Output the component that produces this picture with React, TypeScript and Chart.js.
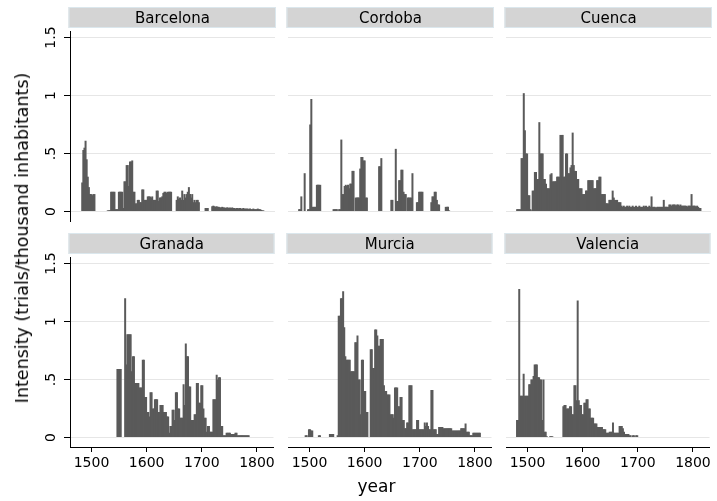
import React, { useEffect, useRef } from "react";
import { Chart, registerables } from "chart.js";

Chart.register(...registerables);

const FONT = "'DejaVu Sans', 'Lucida Grande', sans-serif";
const BAR_COLOR = "#5a5a5a";
const GRID_COLOR = "#e6e6e6";
const STRIP_FILL = "#d4d4d4";
const STRIP_BORDER = "#dbe7ed";

// ---------- data ----------
const cities = ["Barcelona", "Cordoba", "Cuenca", "Granada", "Murcia", "Valencia"];
const yTicks = [0, 0.5, 1, 1.5];
const yTickLabels = ["0", ".5", "1", "1.5"];
const xTicks = [1500, 1600, 1700, 1800];
const yAxisTitle = "Intensity (trials/thousand inhabitants)";
const xAxisTitle = "year";

// every series: one value per 2-year bin, first bin starts in 1480
const firstYear = 1480;
const binYears = 2;

const barcelona = [
  null, 0.25, 0.53, 0.55, 0.61, 0.45, 0.3, 0.21, 0.15, 0.15,
  0.14, 0.15, 0.15, null, null, null, null, null, null, null,
  null, null, null, null, 0.01, 0.01, 0.01, 0.17, 0.17, 0.17,
  0.17, 0.02, 0.02, 0.02, 0.17, 0.17, 0.17, 0.17, 0.03, 0.26,
  0.26, 0.4, 0.4, 0.22, 0.43, 0.43, 0.44, 0.17, 0.17, 0.07,
  0.07, 0.1, 0.1, 0.08, 0.08, 0.19, 0.19, 0.1, 0.1, 0.1,
  0.13, 0.13, 0.13, 0.12, 0.13, 0.1, 0.1, 0.1, 0.18, 0.18,
  0.09, 0.12, 0.12, 0.13, 0.16, 0.17, 0.17, 0.16, 0.17, 0.17,
  0.17, 0.17, null, null, null, null, 0.1, 0.13, 0.11, 0.12,
  0.1, 0.18, 0.1, 0.15, 0.12, 0.15, 0.17, 0.21, 0.15, 0.12,
  0.15, 0.08, 0.1, 0.08, 0.1, 0.1, 0.08, null, null, null,
  null, null, 0.03, 0.03, 0.03, null, null, null, 0.045, 0.05,
  0.045, 0.04, 0.045, 0.04, 0.04, 0.035, 0.035, 0.04, 0.035, 0.035,
  0.03, 0.035, 0.035, 0.03, 0.035, 0.03, 0.035, 0.03, 0.03, 0.025,
  0.03, 0.03, 0.025, 0.03, 0.025, 0.025, 0.03, 0.025, 0.025, 0.025,
  0.025, 0.02, 0.025, 0.02, 0.02, 0.025, 0.02, 0.02, 0.02, 0.025,
  0.02, 0.02, 0.015, 0.01, 0.01,
];

const cordoba = [
  0.02, 0.02, 0.13, null, null, 0.33, null, null, 0.02, 0.02,
  0.75, 0.97, 0.04, 0.04, 0.04, 0.04, 0.23, 0.23, 0.23, 0.23,
  null, null, null, null, null, null, null, null, null, null,
  null, 0.02, 0.02, 0.02, 0.02, null, 0.02, 0.02, 0.62, 0.15,
  0.15, 0.22, 0.23, 0.22, 0.23, 0.2, 0.24, 0.24, 0.35, 0.35,
  null, 0.12, 0.12, 0.12, 0.12, 0.37, 0.47, 0.47, 0.44, 0.44,
  0.12, 0.12, null, null, null, null, null, null, null, null,
  null, null, 0.39, 0.39, 0.46, null, null, null, null, null,
  null, null, null, 0.1, 0.1, null, null, 0.54, 0.09, 0.09,
  0.27, 0.27, 0.36, 0.36, 0.17, 0.15, 0.15, null, 0.12, 0.12,
  0.12, 0.12, 0.33, null, null, null, 0.08, 0.08, 0.17, 0.17,
  0.17, 0.17, null, null, null, null, null, null, null, 0.08,
  0.13, 0.13, 0.17, 0.17, 0.1, 0.06, 0.06, null, null, null,
  null, null, 0.04, 0.04, 0.04, 0.01,
];

const cuenca = [
  0.02, 0.02, 0.02, 0.02, 0.46, 0.46, 1.02, 0.7, 0.5, 0.5,
  0.14, 0.14, 0.02, 0.01, 0.18, 0.18, 0.34, 0.34, 0.28, 0.28,
  0.77, 0.5, 0.5, 0.5, 0.28, 0.28, 0.24, 0.2, 0.2, 0.2,
  0.32, 0.33, 0.26, 0.26, 0.26, 0.26, 0.3, 0.3, 0.3, 0.66,
  0.66, 0.66, 0.3, 0.3, 0.5, 0.5, 0.33, 0.33, 0.38, 0.4,
  0.68, 0.4, 0.35, 0.35, 0.28, 0.28, 0.2, 0.2, 0.2, 0.15,
  0.15, 0.15, 0.18, 0.18, 0.27, 0.27, 0.27, 0.27, 0.27, 0.2,
  0.2, 0.2, 0.27, 0.27, 0.3, 0.3, 0.15, 0.15, 0.15, 0.15,
  0.07, 0.07, 0.07, 0.1, 0.1, 0.1, 0.18, 0.12, 0.1, 0.1,
  0.1, 0.08, 0.08, 0.08, 0.05, 0.04, 0.05, 0.04, 0.04, 0.05,
  0.04, 0.05, 0.04, 0.04, 0.05, 0.04, 0.04, 0.05, 0.04, 0.04,
  0.05, 0.04, 0.04, 0.04, 0.05, 0.04, 0.05, 0.04, 0.04, 0.05,
  0.04, 0.13, 0.04, 0.04, 0.04, 0.03, 0.04, 0.04, 0.04, 0.04,
  0.04, 0.04, 0.1, 0.04, 0.04, 0.04, 0.04, 0.06, 0.06, 0.05,
  0.06, 0.06, 0.06, 0.05, 0.06, 0.06, 0.05, 0.06, 0.05, 0.05,
  0.05, 0.05, 0.05, 0.04, 0.05, 0.05, 0.05, 0.15, 0.05, 0.05,
  0.05, 0.04, 0.05, 0.04, 0.03, 0.03,
];

const granada = [
  null, null, null, null, null, null, null, null, null, null,
  null, null, null, null, null, null, null, null, null, null,
  null, null, null, null, null, null, null, null, null, null,
  null, null, null, 0.59, 0.59, 0.59, 0.59, null, null, null,
  1.2, 0.63, 0.89, 0.89, 0.89, 0.89, 0.57, 0.7, 0.7, 0.47,
  0.47, 0.47, 0.47, 0.43, 0.43, 0.43, 0.67, 0.67, 0.35, 0.35,
  0.22, 0.22, 0.18, 0.39, 0.39, 0.25, 0.25, 0.33, 0.33, 0.33,
  0.22, 0.22, 0.28, 0.28, 0.28, 0.22, 0.22, 0.22, 0.18, 0.18,
  0.04, 0.1, 0.1, 0.24, 0.24, 0.15, 0.39, 0.39, 0.25, 0.25,
  0.17, 0.17, 0.17, 0.46, 0.28, 0.81, 0.7, 0.7, 0.44, 0.44,
  0.15, 0.15, 0.15, 0.2, 0.2, 0.47, 0.47, 0.3, 0.3, 0.45,
  0.45, 0.25, 0.17, 0.17, 0.05, 0.1, 0.1, 0.05, 0.05, 0.05,
  0.33, 0.33, 0.33, 0.54, 0.5, 0.52, 0.52, 0.1, 0.1, 0.02,
  0.02, 0.02, 0.04, 0.04, 0.04, 0.04, 0.03, 0.03, 0.03, 0.03,
  0.04, 0.04, 0.02, 0.02, 0.02, 0.02, 0.02, 0.02, 0.02, 0.02,
  0.02, 0.02, 0.02,
];

const murcia = [
  null, null, null, null, null, null, 0.02, 0.02, null, 0.07,
  0.07, 0.06, 0.06, null, null, null, null, null, 0.02, 0.02,
  null, null, null, null, null, null, null, null, 0.03, 0.03,
  0.03, 0.03, null, null, null, 0.02, 1.05, 1.05, 1.2, 1.2,
  1.26, 0.95, 0.7, 0.67, 0.67, 0.67, 0.67, 0.57, 0.57, 0.57,
  0.57, 0.82, 0.82, 0.88, 0.5, 0.5, 0.2, 0.67, 0.67, 0.4,
  0.4, 0.22, 0.22, null, null, 0.76, 0.76, 0.6, 0.6, 0.93,
  0.93, 0.88, 0.79, 0.79, 0.85, 0.85, 0.85, 0.45, 0.4, 0.4,
  0.37, 0.37, 0.37, 0.2, 0.2, 0.2, 0.17, 0.43, 0.43, 0.43,
  0.27, 0.27, 0.35, 0.35, 0.15, 0.15, 0.08, 0.08, 0.13, 0.13,
  0.45, 0.45, 0.45, 0.07, 0.07, 0.07, 0.07, 0.15, 0.15, 0.07,
  0.07, 0.07, 0.07, 0.07, 0.13, 0.1, 0.13, 0.1, 0.07, 0.07,
  0.41, 0.41, 0.07, 0.07, 0.07, 0.03, 0.03, 0.09, 0.09, 0.09,
  0.09, 0.08, 0.08, 0.08, 0.08, 0.08, 0.08, 0.08, 0.08, 0.06,
  0.06, 0.06, 0.06, 0.06, 0.06, 0.06, 0.06, 0.08, 0.08, 0.08,
  0.08, 0.12, 0.05, 0.05, 0.05, 0.02, 0.02, 0.02, 0.04, 0.04,
  0.04, 0.04, 0.04, 0.04, 0.04,
];

const valencia = [
  0.15, 0.15, 1.28, 0.36, 0.36, 0.36, 0.55, 0.36, 0.36, 0.36,
  0.36, 0.46, 0.46, 0.5, 0.5, 0.53, 0.63, 0.63, 0.63, 0.52,
  0.52, 0.5, 0.5, 0.15, 0.5, 0.05, 0.05, 0.01, null, null,
  0.01, 0.01, 0.01, null, null, null, null, null, null, null,
  null, null, 0.27, 0.28, 0.28, 0.25, 0.25, 0.25, 0.27, 0.27,
  0.2, 0.2, 0.45, 0.45, 0.32, 1.18, 0.32, 0.28, 0.28, 0.2,
  0.2, 0.3, 0.3, 0.33, 0.33, 0.25, 0.25, 0.17, 0.17, 0.17,
  0.12, 0.12, 0.12, 0.09, 0.09, 0.09, 0.09, 0.09, 0.07, 0.07,
  0.07, 0.04, 0.04, 0.04, 0.05, 0.05, 0.05, 0.13, 0.04, 0.04,
  0.04, 0.04, 0.04, 0.1, 0.1, 0.1, 0.08, 0.05, 0.03, 0.03,
  0.03, 0.03, 0.02, 0.02, null, 0.02, 0.02, null, 0.02, 0.02,
];

const seriesByCity = [barcelona, cordoba, cuenca, granada, murcia, valencia];

// ---------- layout ----------
const X_MIN = 1461;
const X_MAX = 1830;
const Y_MIN = -0.082;
const Y_MAX = 1.556;
const COL_LEFT = [70, 288, 506];
const PLOT_W = 205;
const ROW_TOP = [31, 257];
const PLOT_H = 190;
const ROW1_CANVAS_TOP = 226;
const FIG_H = 501;

const panelDecor = {
  id: "panelDecor",
  afterDraw(chart: any, _args: any, opts: any) {
    const { ctx, chartArea } = chart;
    ctx.save();
    // header strip
    const x0 = chartArea.left - 1.5;
    const x1 = chartArea.right + 1;
    const y0 = chartArea.top - 24;
    const h = 21;
    ctx.fillStyle = STRIP_FILL;
    ctx.fillRect(x0, y0, x1 - x0, h);
    ctx.strokeStyle = STRIP_BORDER;
    ctx.lineWidth = 1;
    ctx.strokeRect(x0 + 0.5, y0 + 0.5, x1 - x0 - 1, h - 1);
    ctx.fillStyle = "#000";
    ctx.font = `15px ${FONT}`;
    ctx.textAlign = "center";
    ctx.textBaseline = "alphabetic";
    ctx.fillText(opts.title, (chartArea.left + chartArea.right) / 2, y0 + 15.7);
    // rotated y tick labels
    if (opts.showYLabels) {
      const ys = chart.scales.y;
      ctx.font = `14px ${FONT}`;
      yTicks.forEach((v, i) => {
        const py = ys.getPixelForValue(v);
        ctx.save();
        ctx.translate(chartArea.left - 15, py);
        ctx.rotate(-Math.PI / 2);
        ctx.textAlign = "center";
        ctx.textBaseline = "alphabetic";
        ctx.fillText(yTickLabels[i], 0, 0);
        ctx.restore();
      });
    }
    ctx.restore();
  },
};

type PanelProps = { title: string; values: (number | null)[]; col: number; row: number };

function Panel({ title, values, col, row }: PanelProps) {
  const ref = useRef<HTMLCanvasElement>(null);
  const left = col === 0 ? 0 : COL_LEFT[col] - 3;
  const padL = col === 0 ? 0 : 3;
  const yAxisW = col === 0 ? COL_LEFT[0] : 0;
  const width = COL_LEFT[col] + PLOT_W + 3 - left;
  const top = row === 0 ? 0 : ROW1_CANVAS_TOP;
  const padTop = ROW_TOP[row] - top;
  const height = row === 0 ? ROW_TOP[0] + PLOT_H + 3 : FIG_H - ROW1_CANVAS_TOP;
  const padBottom = row === 0 ? 3 : 0;
  const xAxisH = row === 1 ? height - padTop - PLOT_H : 0;

  useEffect(() => {
    if (!ref.current) return;
    const points = values.map((v, i) => ({ x: firstYear + binYears * i + binYears / 2, y: v }));
    const xScale: any =
      row === 1
        ? {
            type: "linear",
            min: X_MIN,
            max: X_MAX,
            offset: false,
            afterBuildTicks: (s: any) => {
              s.ticks = xTicks.map((v) => ({ value: v }));
            },
            afterFit: (s: any) => {
              s.height = xAxisH;
            },
            ticks: {
              font: { family: FONT, size: 14 },
              color: "#000",
              padding: 3,
              maxRotation: 0,
              minRotation: 0,
              autoSkip: false,
              callback: (v: any) => String(v),
            },
            grid: {
              display: true,
              drawOnChartArea: false,
              drawTicks: true,
              tickLength: 5,
              tickColor: "#000",
              offset: false,
            },
            border: { display: true, color: "#000", width: 1 },
          }
        : { type: "linear", min: X_MIN, max: X_MAX, offset: false, display: false };

    const chart = new Chart(ref.current, {
      type: "bar",
      data: {
        datasets: [
          {
            data: points as any,
            backgroundColor: BAR_COLOR,
            borderWidth: 0,
            barPercentage: 1.8,
            categoryPercentage: 1,
            inflateAmount: 0,
          },
        ],
      },
      options: {
        responsive: false,
        animation: false,
        events: [],
        layout: { padding: { left: padL, right: 3, top: padTop, bottom: padBottom } },
        scales: {
          x: xScale,
          y: {
            type: "linear",
            min: Y_MIN,
            max: Y_MAX,
            afterBuildTicks: (s: any) => {
              s.ticks = yTicks.map((v) => ({ value: v }));
            },
            afterFit: (s: any) => {
              s.width = yAxisW;
            },
            ticks: { display: false },
            grid: {
              color: GRID_COLOR,
              lineWidth: 1,
              drawTicks: col === 0,
              tickLength: 6,
              tickColor: "#000",
            },
            border: { display: col === 0, color: "#000", width: 1 },
          },
        },
        plugins: {
          legend: { display: false },
          tooltip: { enabled: false },
          title: { display: false },
          panelDecor: { title, showYLabels: col === 0 },
        } as any,
      },
      plugins: [panelDecor],
    });
    return () => chart.destroy();
  }, []);

  return (
    <canvas
      ref={ref}
      width={width}
      height={height}
      style={{ position: "absolute", left, top, width, height }}
    />
  );
}

export default function App() {
  return (
    <div
      style={{
        position: "fixed",
        left: 0,
        top: 0,
        width: 717,
        height: 501,
        background: "#fff",
        overflow: "hidden",
      }}
    >
      {cities.map((c, i) => (
        <Panel key={c} title={c} values={seriesByCity[i]} col={i % 3} row={Math.floor(i / 3)} />
      ))}
      <div
        style={{
          position: "absolute",
          left: 21.6,
          top: 238,
          transform: "translate(-50%, -50%) rotate(-90deg)",
          font: `17.5px ${FONT}`,
          lineHeight: "20px",
          whiteSpace: "nowrap",
          color: "#000",
        }}
      >
        {yAxisTitle}
      </div>
      <div
        style={{
          position: "absolute",
          left: 376.5,
          top: 476,
          transform: "translateX(-50%)",
          font: `17px ${FONT}`,
          lineHeight: "20px",
          whiteSpace: "nowrap",
          color: "#000",
        }}
      >
        {xAxisTitle}
      </div>
    </div>
  );
}
